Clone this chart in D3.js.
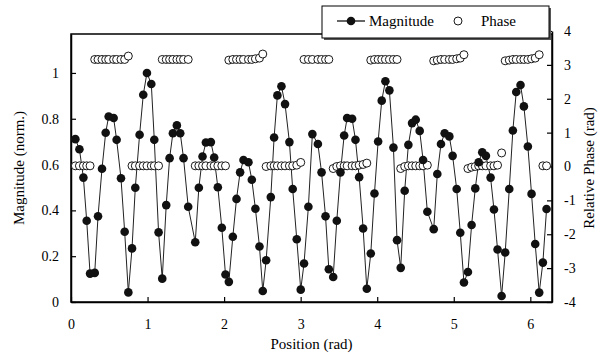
<!DOCTYPE html>
<html>
<head>
<meta charset="utf-8">
<script src="https://cdn.jsdelivr.net/npm/d3@7"></script>
<style>
  body { margin: 0; background: #fff; }
  svg { display: block; }
  text { font-family: "Liberation Serif", "Times New Roman", serif; }
</style>
</head>
<body>
<div id="chart"></div>
<script>
// sample positions (rad)
const positions = [
  0.057, 0.110, 0.162, 0.205, 0.249, 0.310, 0.353, 0.405, 0.453, 0.492,
  0.557, 0.596, 0.653, 0.701, 0.749, 0.797, 0.840, 0.896, 0.944, 0.992,
  1.049, 1.088, 1.144, 1.192, 1.244, 1.288, 1.331, 1.383, 1.427, 1.470,
  1.531, 1.623, 1.670, 1.718, 1.762, 1.827, 1.870, 1.918, 1.970, 2.018,
  2.062, 2.114, 2.162, 2.209, 2.253, 2.318, 2.362, 2.409, 2.462, 2.505,
  2.549, 2.610, 2.653, 2.696, 2.749, 2.796, 2.853, 2.896, 2.949, 3.001,
  3.044, 3.101, 3.153, 3.225, 3.273, 3.325, 3.368, 3.425, 3.472, 3.520,
  3.568, 3.607, 3.672, 3.716, 3.764, 3.816, 3.864, 3.916, 3.964, 4.012,
  4.059, 4.107, 4.159, 4.212, 4.259, 4.307, 4.359, 4.407, 4.455, 4.503,
  4.555, 4.599, 4.655, 4.738, 4.785, 4.833, 4.881, 4.942, 4.985, 5.038,
  5.085, 5.133, 5.185, 5.233, 5.281, 5.325, 5.372, 5.420, 5.481, 5.525,
  5.572, 5.625, 5.672, 5.725, 5.772, 5.816, 5.872, 5.916, 5.968, 6.016,
  6.064, 6.116, 6.164, 6.212
];

// normalised magnitude
const magnitude = [
  0.711, 0.667, 0.543, 0.355, 0.124, 0.127, 0.374, 0.582, 0.739, 0.810,
  0.803, 0.708, 0.540, 0.307, 0.042, 0.234, 0.499, 0.730, 0.905, 1.000,
  0.952, 0.708, 0.304, 0.102, 0.423, 0.628, 0.737, 0.771, 0.737, 0.628,
  0.416, 0.261, 0.499, 0.635, 0.696, 0.698, 0.631, 0.501, 0.324, 0.120,
  0.088, 0.285, 0.450, 0.566, 0.620, 0.610, 0.534, 0.407, 0.242, 0.048,
  0.182, 0.458, 0.718, 0.902, 0.942, 0.864, 0.698, 0.493, 0.274, 0.054,
  0.168, 0.416, 0.733, 0.690, 0.566, 0.374, 0.143, 0.109, 0.355, 0.566,
  0.727, 0.803, 0.800, 0.708, 0.545, 0.321, 0.058, 0.212, 0.474, 0.701,
  0.879, 0.964, 0.924, 0.674, 0.270, 0.149, 0.486, 0.686, 0.781, 0.796,
  0.747, 0.620, 0.394, 0.318, 0.559, 0.690, 0.737, 0.723, 0.638, 0.493,
  0.302, 0.085, 0.131, 0.336, 0.496, 0.610, 0.654, 0.638, 0.543, 0.404,
  0.229, 0.026, 0.216, 0.493, 0.749, 0.917, 0.947, 0.854, 0.679, 0.472,
  0.253, 0.041, 0.172, 0.406
];

// relative phase (rad)
const phase = [
  0.02, 0.02, 0.02, 0.02, 0.02, 3.16, 3.16, 3.16, 3.16, 3.16,
  3.16, 3.16, 3.16, 3.16, 3.26, 0.02, 0.02, 0.02, 0.02, 0.02,
  0.02, 0.02, 0.02, 3.16, 3.16, 3.16, 3.16, 3.16, 3.16, 3.16,
  3.16, 0.02, 0.02, 0.02, 0.02, 0.02, 0.02, 0.02, 0.02, 0.02,
  3.14, 3.16, 3.16, 3.16, 3.16, 3.16, 3.16, 3.18, 3.20, 3.32,
  0.00, 0.02, 0.02, 0.02, 0.02, 0.02, 0.02, 0.02, 0.04, 0.12,
  3.16, 3.16, 3.16, 3.16, 3.16, 3.16, 3.16, -0.06, 0.00, 0.02,
  0.02, 0.02, 0.02, 0.02, 0.04, 0.06, 0.10, 3.14, 3.16, 3.16,
  3.16, 3.16, 3.16, 3.16, 3.16, -0.06, 0.00, 0.02, 0.02, 0.02,
  0.02, 0.02, 0.04, 3.12, 3.14, 3.16, 3.16, 3.16, 3.16, 3.18,
  3.20, 3.30, -0.06, -0.02, 0.00, 0.02, 0.02, 0.02, 0.02, 0.02,
  0.04, 0.40, 3.12, 3.14, 3.16, 3.16, 3.16, 3.16, 3.16, 3.18,
  3.20, 3.30, 0.02, 0.02
];

const xTicks = [0, 1, 2, 3, 4, 5, 6];
const magTicks = [0, 0.2, 0.4, 0.6, 0.8, 1];
const phaseTicks = [-4, -3, -2, -1, 0, 1, 2, 3, 4];

const W = 611, H = 354;
const margin = { top: 34, right: 59, bottom: 52, left: 71 };
const innerW = W - margin.left - margin.right;
const innerH = H - margin.top - margin.bottom;

const points = positions.map((p, i) => ({ x: p, m: magnitude[i], ph: phase[i] }));

const x = d3.scaleLinear().domain([0, 2 * Math.PI]).range([0, innerW]);
const y = d3.scaleLinear().domain([0, 1.17]).range([innerH, 0]);
const y2 = d3.scaleLinear().domain([-4, 4]).range([innerH, -3]);

const svg = d3.select("#chart").append("svg")
  .attr("width", W)
  .attr("height", H);

const g = svg.append("g")
  .attr("transform", `translate(${margin.left},${margin.top})`);

// frame
g.append("rect")
  .attr("width", innerW)
  .attr("height", innerH)
  .attr("fill", "none")
  .attr("stroke", "#000")
  .attr("stroke-width", 1.5);

// axes, ticks pointing inward
const xAxis = g.append("g")
  .attr("transform", `translate(0,${innerH})`)
  .call(d3.axisBottom(x).tickValues(xTicks).tickFormat(d3.format("d"))
    .tickSizeInner(-5).tickSizeOuter(0).tickPadding(17));

const yAxis = g.append("g")
  .call(d3.axisLeft(y).tickValues(magTicks).tickFormat(d => d === 0 || d === 1 ? d3.format("d")(d) : d3.format(".1f")(d))
    .tickSizeInner(-5).tickSizeOuter(0).tickPadding(12));

const y2Axis = g.append("g")
  .attr("transform", `translate(${innerW},0)`)
  .call(d3.axisRight(y2).tickValues(phaseTicks).tickFormat(d => d < 0 ? "-" + Math.abs(d) : d)
    .tickSizeInner(-5).tickSizeOuter(0).tickPadding(12));

[xAxis, yAxis, y2Axis].forEach(a => {
  a.select(".domain").attr("stroke-width", 1.5);
  a.selectAll(".tick line").attr("stroke-width", 1.2);
  a.selectAll(".tick text").attr("font-size", 14).attr("fill", "#000")
    .style("font-family", "'Liberation Serif', serif");
});

// magnitude line
const line = d3.line().x(d => x(d.x)).y(d => y(d.m));
g.append("path")
  .datum(points)
  .attr("fill", "none")
  .attr("stroke", "#222")
  .attr("stroke-width", 1)
  .attr("d", line);

// phase markers
g.append("g").selectAll("circle")
  .data(points)
  .join("circle")
  .attr("cx", d => x(d.x))
  .attr("cy", d => y2(d.ph))
  .attr("r", 4)
  .attr("fill", "#fff")
  .attr("stroke", "#000")
  .attr("stroke-width", 0.9);

// magnitude markers
g.append("g").selectAll("circle")
  .data(points)
  .join("circle")
  .attr("cx", d => x(d.x))
  .attr("cy", d => y(d.m))
  .attr("r", 4.3)
  .attr("fill", "#111");

// axis titles
svg.append("text")
  .attr("x", margin.left + innerW / 2)
  .attr("y", 349)
  .attr("text-anchor", "middle")
  .attr("font-size", 15)
  .text("Position (rad)");

svg.append("text")
  .attr("transform", `translate(24,${margin.top + innerH / 2}) rotate(-90)`)
  .attr("text-anchor", "middle")
  .attr("font-size", 15)
  .text("Magnitude (norm.)");

svg.append("text")
  .attr("transform", `translate(594,${margin.top + innerH / 2}) rotate(-90)`)
  .attr("text-anchor", "middle")
  .attr("font-size", 15)
  .text("Relative Phase (rad)");

// legend
const lg = svg.append("g").attr("transform", "translate(322,6)");
lg.append("rect").attr("x", 2).attr("y", 2).attr("width", 227).attr("height", 32).attr("fill", "#555");
lg.append("rect").attr("width", 227).attr("height", 32).attr("fill", "#fff").attr("stroke", "#000").attr("stroke-width", 1);
lg.append("line").attr("x1", 15).attr("x2", 43).attr("y1", 15).attr("y2", 15).attr("stroke", "#000").attr("stroke-width", 1.2);
lg.append("circle").attr("cx", 29).attr("cy", 15).attr("r", 4.3).attr("fill", "#111");
lg.append("text").attr("x", 47).attr("y", 20).attr("font-size", 15).text("Magnitude");
lg.append("circle").attr("cx", 136).attr("cy", 15).attr("r", 4).attr("fill", "#fff").attr("stroke", "#000").attr("stroke-width", 0.9);
lg.append("text").attr("x", 159).attr("y", 20).attr("font-size", 15).text("Phase");
</script>
</body>
</html>
